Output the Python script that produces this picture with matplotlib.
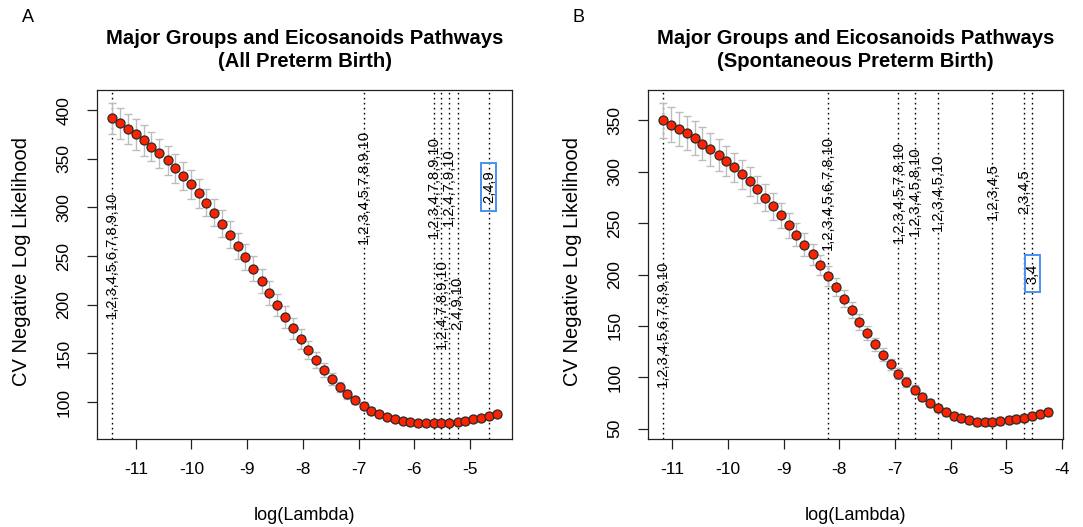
#cv curves for the two lasso fits, R cv.glmnet style
import matplotlib
matplotlib.use('Agg')
import matplotlib.pyplot as plt
from matplotlib.patches import Rectangle

plt.rcParams['font.family'] = ['Liberation Sans', 'DejaVu Sans']

# panel A: all preterm birth
log_lambda_all = [-11.42, -11.28, -11.14, -11.00, -10.86, -10.72, -10.58, -10.43, -10.29, -10.15,
                  -10.01, -9.87, -9.73, -9.59, -9.45, -9.31, -9.17, -9.03, -8.89, -8.74,
                  -8.60, -8.46, -8.32, -8.18, -8.04, -7.90, -7.76, -7.62, -7.48, -7.34,
                  -7.20, -7.06, -6.91, -6.77, -6.63, -6.49, -6.35, -6.21, -6.07, -5.93,
                  -5.79, -5.65, -5.51, -5.37, -5.22, -5.08, -4.94, -4.80, -4.66, -4.52]
cvm_all = [391.4, 386.3, 380.8, 375.0, 368.8, 362.3, 355.5, 348.3, 340.4, 332.5,
           323.6, 314.4, 304.8, 294.5, 283.5, 272.2, 260.6, 249.0, 237.0, 224.3,
           212.3, 199.6, 187.6, 175.7, 164.7, 153.4, 143.1, 132.9, 124.0, 115.7,
           108.2, 101.7, 96.2, 91.4, 87.7, 84.6, 82.2, 80.4, 79.4, 78.7,
           78.4, 78.4, 78.4, 78.7, 79.4, 80.4, 82.2, 83.9, 85.9, 87.7]
cvsd_all = [16.0, 16.0, 15.5, 15.5, 15.5, 15.0, 15.0, 15.0, 15.0, 14.5,
            14.5, 14.5, 14.0, 14.0, 14.0, 13.5, 13.5, 13.0, 13.0, 12.5,
            12.0, 11.5, 11.0, 10.5, 10.0, 9.0, 8.0, 7.0, 6.0, 5.0,
            4.5, 4.0, 3.5, 3.5, 3.0, 3.0, 3.0, 3.0, 3.0, 3.0,
            3.0, 3.0, 3.0, 3.0, 3.0, 3.0, 3.0, 3.0, 3.0, 3.0]
vlines_all = [-11.42, -6.91, -5.65, -5.51, -5.37, -5.22, -4.66]
vlabels_all = ['1,2,3,4,5,6,7,8,9,10', '1,2,3,4,5,7,8,9,10', '1,2,3,4,7,8,9,10',
               '1,2,4,7,8,9,10', '1,2,4,7,9,10', '2,4,9,10', '2,4,9']
vlabel_y_all = [251, 321, 321, 201, 321, 201, 321]

# panel B: spontaneous preterm birth
log_lambda_spon = [-11.16, -11.02, -10.88, -10.74, -10.60, -10.46, -10.32, -10.17, -10.03, -9.89,
                   -9.75, -9.61, -9.47, -9.33, -9.19, -9.05, -8.91, -8.77, -8.63, -8.48,
                   -8.34, -8.20, -8.06, -7.92, -7.78, -7.64, -7.50, -7.36, -7.22, -7.08,
                   -6.94, -6.80, -6.65, -6.51, -6.37, -6.23, -6.09, -5.95, -5.81, -5.67,
                   -5.53, -5.39, -5.25, -5.11, -4.96, -4.82, -4.68, -4.54, -4.40, -4.26]
cvm_spon = [350.0, 345.8, 341.6, 337.3, 332.5, 327.3, 322.1, 316.2, 310.4, 304.2,
            297.7, 290.6, 282.8, 274.7, 266.2, 257.5, 248.0, 238.9, 229.2, 219.5,
            209.4, 198.7, 187.7, 176.6, 165.2, 153.9, 142.8, 132.1, 122.1, 112.6,
            103.6, 95.4, 88.0, 81.1, 75.3, 70.4, 66.2, 62.6, 60.0, 58.1,
            56.8, 56.5, 56.8, 57.1, 58.1, 59.1, 60.4, 62.3, 64.3, 65.9]
cvsd_spon = [17.0, 17.0, 17.0, 16.5, 16.5, 16.0, 16.0, 15.5, 15.0, 14.5,
             14.0, 14.0, 13.5, 13.0, 13.0, 12.5, 12.0, 11.5, 11.0, 10.5,
             10.0, 9.5, 9.0, 8.5, 8.0, 7.5, 7.0, 6.5, 6.0, 5.5,
             5.0, 4.5, 4.5, 4.0, 4.0, 4.0, 4.0, 4.0, 4.0, 4.0,
             4.0, 4.0, 4.0, 4.0, 4.0, 4.0, 4.0, 4.0, 4.0, 4.0]
vlines_spon = [-11.16, -8.20, -6.94, -6.65, -6.23, -5.25, -4.68, -4.54]
vlabels_spon = ['1,2,3,4,5,6,7,8,9,10', '1,2,3,4,5,6,7,8,10', '1,2,3,4,5,7,8,10',
                '1,2,3,4,5,8,10', '1,2,3,4,5,10', '1,2,3,4,5', '2,3,4,5', '3,4']
vlabel_y_spon = [152, 279, 280, 281, 280, 281, 281, 201]

yticks_all = [100, 150, 200, 250, 300, 350, 400]
yticks_spon = [50, 100, 150, 200, 250, 300, 350]
xticks_all = [-11, -10, -9, -8, -7, -6, -5]
xticks_spon = [-11, -10, -9, -8, -7, -6, -5, -4]

fig = plt.figure(figsize=(10.83, 5.27), dpi=100)
W, H = 1083, 527
axA = fig.add_axes([97 / W, 1 - 439 / H, 415 / W, 349 / H])
axB = fig.add_axes([648 / W, 1 - 439 / H, 415 / W, 349 / H])

panels = [
    (axA, log_lambda_all, cvm_all, cvsd_all, vlines_all, vlabels_all, vlabel_y_all,
     xticks_all, yticks_all, '(All Preterm Birth)', 'A'),
    (axB, log_lambda_spon, cvm_spon, cvsd_spon, vlines_spon, vlabels_spon, vlabel_y_spon,
     xticks_spon, yticks_spon, '(Spontaneous Preterm Birth)', 'B'),
]

boxed = []
for ax, x, y, sd, vl, vlab, vy, xt, yt, sub, letter in panels:
    ax.errorbar(x, y, yerr=sd, fmt='none', ecolor='#bdbdbd', elinewidth=1,
                capsize=2.6, capthick=1, zorder=2)
    for xv in vl:
        ax.axvline(xv, color='black', linestyle=(0, (1.2, 2.4)), linewidth=1, zorder=1)
    ax.plot(x, y, 'o', ms=6.5, mfc='#ff2200', mec='#2a2a2a', mew=0.9, zorder=3)
    for xv, lab, yy in zip(vl, vlab, vy):
        t = ax.text(xv, yy, lab, rotation=90, ha='center', va='center', fontsize=10.6, zorder=4)
    boxed.append(t)  # last label of each panel gets the blue box
    ax.margins(x=0.04, y=0.04)
    ax.set_xticks(xt)
    ax.set_xticklabels([str(v) for v in xt])
    ax.set_yticks(yt)
    ax.set_yticklabels([str(v) for v in yt], rotation=90, va='center')
    ax.tick_params(direction='out', length=7.5, width=0.9, labelsize=12.5, color='#222222')
    ax.tick_params(axis='x', pad=9)
    ax.tick_params(axis='y', pad=11)
    for s in ax.spines.values():
        s.set_linewidth(0.9)
        s.set_color('#222222')
    pos = ax.get_position()
    cx = pos.x0 + pos.width / 2
    fig.text(cx, 1 - 50 / H, 'Major Groups and Eicosanoids Pathways\n' + sub,
             ha='center', va='center', fontsize=14.6, fontweight='bold', linespacing=1.3)
    fig.text(cx, 1 - 515 / H, 'log(Lambda)', ha='center', va='center', fontsize=13)
    fig.text(pos.x0 - 75 / W, 1 - 262 / H, 'CV Negative Log Likelihood', rotation=90,
             ha='center', va='center', fontsize=14.5)
    fig.text(pos.x0 - 69 / W, 1 - 18 / H, letter, ha='center', va='center', fontsize=13)

# box drawn in pixels around the measured text extent (more room along the text)
fig.canvas.draw()
for t in boxed:
    bb = t.get_window_extent()
    w, h = bb.width + 1, bb.height + 16
    fig.add_artist(Rectangle((bb.x0 + bb.width / 2 - w / 2, bb.y0 + bb.height / 2 - h / 2), w, h,
                             transform=None, fill=False, ec='#4a90f0', lw=1.4, zorder=5))

plt.savefig('out.png', dpi=100)
plt.close()
